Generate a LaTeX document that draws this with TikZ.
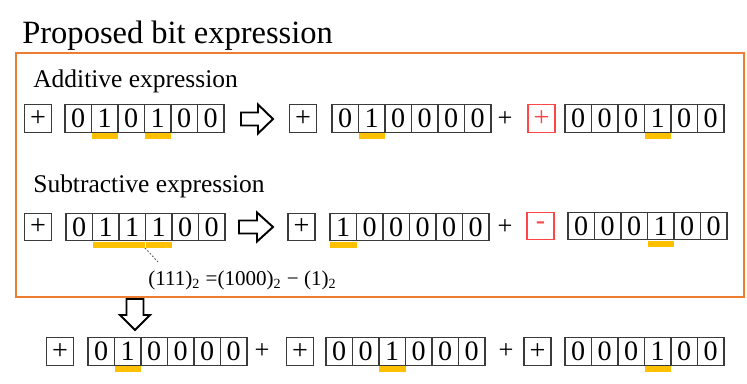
\documentclass[tikz,border=0pt]{standalone}
\usepackage{fontspec}
\setmainfont{Liberation Serif}
\definecolor{frameOrange}{HTML}{ED7D31}
\definecolor{markGold}{HTML}{FFC000}
\definecolor{signRed}{HTML}{FF4545}
\definecolor{cellGray}{HTML}{3A3A3A}

\begin{document}
\begin{tikzpicture}[x=0.02cm,y=-0.02cm,
    bitcell/.style={draw=cellGray,line width=0.6pt,minimum width=0.53cm,minimum height=0.55cm,inner sep=0pt,font=\fontsize{16}{16}\selectfont},
    signbox/.style={bitcell,minimum width=0.54cm},
    redsign/.style={signbox,draw=signRed,text=signRed},
    goldbar/.style={fill=markGold,minimum width=0.53cm,minimum height=0.12cm,inner sep=0pt,anchor=north},
    hollow/.style={draw=black,fill=white,line width=1.1pt,line join=miter}]
  \useasboundingbox (0,0) rectangle (747,383);
  \node[anchor=base west,inner sep=0pt,font=\fontsize{18.5}{18.5}\selectfont] (title) at (22,43) {Proposed bit expression};
  \draw[frameOrange,line width=1.1pt] (16,53) rectangle (744,297);
  \node[anchor=base west,inner sep=0pt,font=\fontsize{14.5}{14.5}\selectfont] (addlabel) at (33,87) {Additive expression};
  \node[anchor=base west,inner sep=0pt,font=\fontsize{14.5}{14.5}\selectfont] (sublabel) at (33,192) {Subtractive expression};
  % sign box and six bits of each number
  \foreach \g/\sx/\bx/\y/\st/\sgn/\bits in {
      a1/38/65/118.5/signbox/+/{0,1,0,1,0,0},
      a2/303/332/118.5/signbox/+/{0,1,0,0,0,0},
      a3/541.5/565/118.5/redsign/+/{0,0,0,1,0,0},
      b1/38/66/227/signbox/+/{0,1,1,1,0,0},
      b2/301.5/330/227/signbox/+/{1,0,0,0,0,0},
      b3/540.5/568/226/redsign/-/{0,0,0,1,0,0},
      c1/60/88/351.5/signbox/+/{0,1,0,0,0,0},
      c2/300/326/351.5/signbox/+/{0,0,1,0,0,0},
      c3/537.5/565/351.5/signbox/+/{0,0,0,1,0,0}} {
    \node[\st] (\g-s) at (\sx,\y) {\sgn};
    \foreach \b [count=\k] in \bits {
      \node[bitcell] (\g-\k) at ({\bx+(\k-0.5)*26.5},\y) {\b};
    }
  }
  % marks under the ones
  \foreach \g/\k in {a1/2,a1/4,a2/2,a3/4,b1/2,b1/3,b1/4,b2/1,b3/4,c1/2,c2/3,c3/4} {
    \node[goldbar] (\g-u\k) at (\g-\k.south) {};
  }
  \node[font=\fontsize{15}{15}\selectfont] (p1) at (505,119) {+};
  \node[font=\fontsize{15}{15}\selectfont] (p2) at (505,227) {+};
  \node[font=\fontsize{15}{15}\selectfont] (p3) at (262,351) {+};
  \node[font=\fontsize{15}{15}\selectfont] (p4) at (506,351) {+};
  % hollow block arrows
  \draw[hollow] (241,112.5) -- (258,112.5) -- (258,104.5) -- (273,119) -- (258,133.5) -- (258,125.5) -- (241,125.5) -- cycle;
  \draw[hollow] (239,220.5) -- (257,220.5) -- (257,212.5) -- (273,227) -- (257,241.5) -- (257,233.5) -- (239,233.5) -- cycle;
  \draw[hollow] (126.5,299) -- (143.5,299) -- (143.5,315) -- (150,315) -- (135,330) -- (120,315) -- (126.5,315) -- cycle;
  \node[anchor=base west,inner sep=0pt,font=\fontsize{12}{12}\selectfont] (formula) at (148,285)
    {(111)\textsubscript{2} =(1000)\textsubscript{2} − (1)\textsubscript{2}};
  \coordinate (leadA) at (145,248);
  \coordinate (leadB) at (158,262);
  \draw[cellGray,line width=0.4pt,dash pattern=on 1pt off 1pt] (leadA) -- (leadB);
\end{tikzpicture}
\end{document}
